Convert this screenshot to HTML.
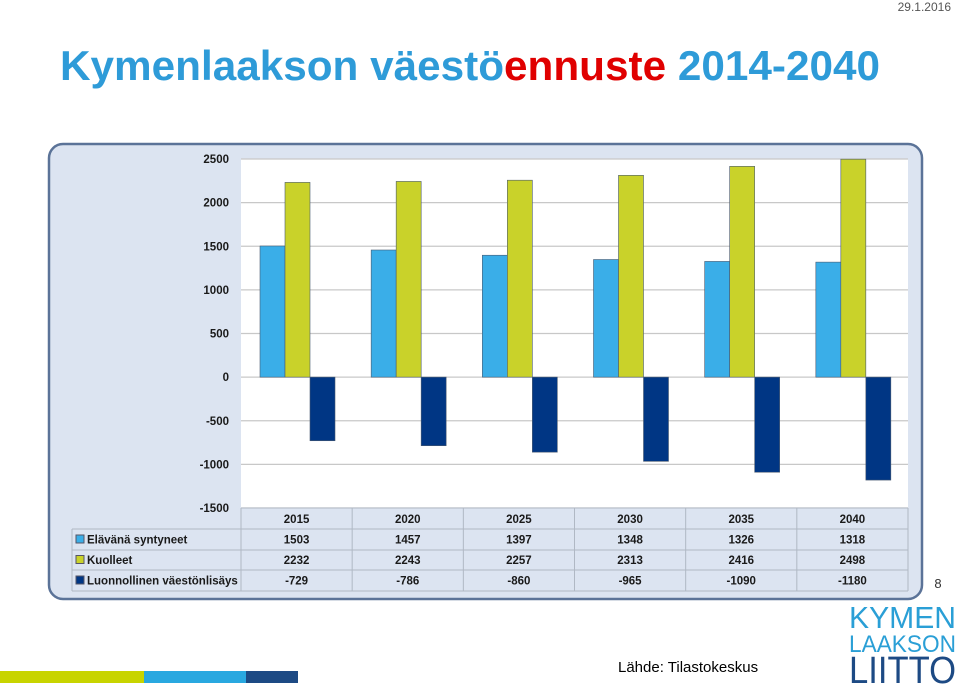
<!DOCTYPE html>
<html><head><meta charset="utf-8"><style>
body{margin:0;background:#fff;width:959px;height:685px;overflow:hidden;font-family:"Liberation Sans",sans-serif}
</style></head><body>
<svg width="959" height="685" viewBox="0 0 959 685" xmlns="http://www.w3.org/2000/svg">
<text x="951" y="11" font-size="12" fill="#555" text-anchor="end">29.1.2016</text>
<text x="60" y="80" font-size="42" font-weight="bold" textLength="820" lengthAdjust="spacingAndGlyphs"><tspan fill="#2e9bd8">Kymenlaakson väestö</tspan><tspan fill="#e00000">ennuste</tspan><tspan fill="#2e9bd8"> 2014-2040</tspan></text>
<rect x="49" y="144" width="873" height="455" rx="14" fill="#dce4f1" stroke="#5b7398" stroke-width="2.5"/>
<rect x="241" y="159" width="667" height="349" fill="#fff"/>
<g id="grid"></g>
<g id="bars"></g>
<g id="table"></g>
<text x="938" y="588" font-size="13" fill="#333" text-anchor="middle">8</text>
<text x="618" y="672" font-size="15" fill="#000">Lähde: Tilastokeskus</text>
<g>
<text x="849" y="628" font-size="31" fill="#2a9fd6" textLength="107" lengthAdjust="spacingAndGlyphs">KYMEN</text>
<text x="849" y="652" font-size="24" fill="#2a9fd6" textLength="107" lengthAdjust="spacingAndGlyphs">LAAKSON</text>
<text x="849" y="683" font-size="38" fill="#1d4a84" textLength="107" lengthAdjust="spacingAndGlyphs">LIITTO</text>
</g>
<rect x="0" y="671" width="144" height="12" fill="#c8d400"/>
<rect x="144" y="671" width="102" height="12" fill="#29a8e0"/>
<rect x="246" y="671" width="52" height="12" fill="#1d4a84"/>
</svg>
<script>
const years=["2015","2020","2025","2030","2035","2040"];
const births=[1503,1457,1397,1348,1326,1318];
const deaths=[2232,2243,2257,2313,2416,2498];
const natural=[-729,-786,-860,-965,-1090,-1180];
const ticks=[2500,2000,1500,1000,500,0,-500,-1000,-1500];
const seriesNames=["Elävänä syntyneet","Kuolleet","Luonnollinen väestönlisäys"];
const colors=["#3aaee8","#c9d22a","#003684"];
const NS="http://www.w3.org/2000/svg";
const x0=241,x1=908,yTop=159,yBot=508,vMax=2500,vMin=-1500;
const y=v=>yTop+(vMax-v)/(vMax-vMin)*(yBot-yTop);
const cw=(x1-x0)/years.length;
function mk(tag,attrs,parent,txt){const e=document.createElementNS(NS,tag);for(const k in attrs)e.setAttribute(k,attrs[k]);if(txt!==undefined)e.textContent=txt;parent.appendChild(e);return e;}
const grid=document.getElementById('grid'),bars=document.getElementById('bars'),tab=document.getElementById('table');
ticks.forEach(t=>{
 const l=mk('line',{x1:x0,x2:x1,y1:y(t),y2:y(t),stroke:'#c8c8c8','stroke-width':1.2},grid);
 
 
 const tx=mk('text',{x:229,y:y(t)+4,'font-size':11.5,'font-weight':'bold','text-anchor':'end',fill:'#1a1a1a'},grid,String(t));
 
 
});
const series=[births,deaths,natural];
const bw=25;
years.forEach((yr,i)=>{
 series.forEach((s,j)=>{
  const v=s[i];const bx=x0+i*cw+19+j*bw;
  const top=Math.min(y(v),y(0)),h=Math.abs(y(v)-y(0));
  const r=mk('rect',{x:bx,y:top,width:bw,height:h,fill:colors[j],stroke:'#4a5a70','stroke-width':0.6},bars);
  
  
 });
});
const rowY=[508,529,550,570,591];
const tl=72;
const hb=mk('rect',{x:x0,y:508,width:x1-x0,height:21,fill:'#dce4f1'},tab);


const bg=mk('rect',{x:tl,y:529,width:x1-tl,height:62,fill:'#dce4f1'},tab);


for(let r=0;r<rowY.length;r++){const lx=r===0?x0:tl;const l=mk('line',{x1:lx,x2:x1,y1:rowY[r],y2:rowY[r],stroke:'#b0b8c4'},tab);}
for(let c=0;c<=years.length;c++){const xx=x0+c*cw;const l=mk('line',{x1:xx,x2:xx,y1:508,y2:591,stroke:'#b0b8c4'},tab);}
const ll=mk('line',{x1:tl,x2:tl,y1:529,y2:591,stroke:'#b0b8c4'},tab);
years.forEach((yr,i)=>{const t=mk('text',{x:x0+(i+0.5)*cw,y:523,'font-size':11.5,'font-weight':'bold','text-anchor':'middle',fill:'#1a1a1a'},tab,yr);});
series.forEach((s,j)=>{
 const cy=(rowY[j+1]+rowY[j+2])/2;
 const sw=mk('rect',{x:76,y:cy-4.5,width:8,height:8,fill:colors[j],stroke:'#556'},tab);
 
 
 const lt=mk('text',{x:87,y:cy+4,'font-size':11.5,'font-weight':'bold',fill:'#1a1a1a'},tab,seriesNames[j]);
 
 
 s.forEach((v,i)=>{const t=mk('text',{x:x0+(i+0.5)*cw,y:cy+4,'font-size':11.5,'font-weight':'bold','text-anchor':'middle',fill:'#1a1a1a'},tab,String(v));});
});
</script>
</body></html>
